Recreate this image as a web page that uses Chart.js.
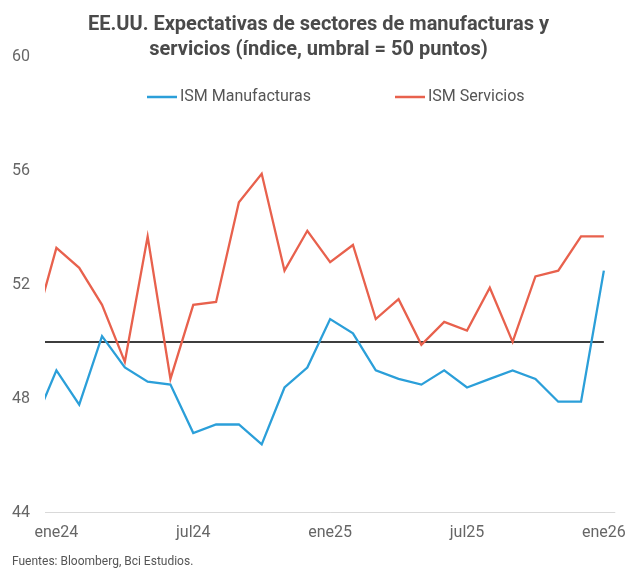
<!DOCTYPE html>
<html lang="es">
<head>
    <meta charset="UTF-8">
    <title>EE.UU. Expectativas de sectores de manufacturas y servicios</title>
    <script src="https://cdn.jsdelivr.net/npm/chart.js"></script>
    <style>
        body {
            margin: 0;
            background-color: #fff;
        }

        #chart-container {
            width: 637px;
            height: 569px;
            position: relative;
        }
    </style>
</head>
<body>

<div id="chart-container">
    <canvas id="ismChart"></canvas>
</div>

<script>
    // meses de la serie (dic23 solo para el tramo inicial de la línea)
    var meses = ['dic23', 'ene24', 'feb24', 'mar24', 'abr24', 'may24', 'jun24', 'jul24', 'ago24', 'sep24', 'oct24', 'nov24', 'dic24',
        'ene25', 'feb25', 'mar25', 'abr25', 'may25', 'jun25', 'jul25', 'ago25', 'sep25', 'oct25', 'nov25', 'dic25', 'ene26'];
    var manufacturas = [47.1, 49.0, 47.8, 50.2, 49.1, 48.6, 48.5, 46.8, 47.1, 47.1, 46.4, 48.4, 49.1,
        50.8, 50.3, 49.0, 48.7, 48.5, 49.0, 48.4, 48.7, 49.0, 48.7, 47.9, 47.9, 52.5];
    var servicios = [50.4, 53.3, 52.6, 51.3, 49.3, 53.7, 48.7, 51.3, 51.4, 54.9, 55.9, 52.5, 53.9,
        52.8, 53.4, 50.8, 51.5, 49.9, 50.7, 50.4, 51.9, 50.0, 52.3, 52.5, 53.7, 53.7];
    var mesesEje = ['ene24', 'jul24', 'ene25', 'jul25', 'ene26'];
    var ticksY = [44, 48, 52, 56, 60];
    var umbral = 50;

    function puntos(valores) {
        return valores.map(function (v, i) { return { x: i, y: v }; });
    }

    // leyenda dibujada dentro del área del gráfico
    var leyendaInterna = {
        id: 'leyendaInterna',
        afterDraw: function (chart) {
            var ctx = chart.ctx;
            var area = chart.chartArea;
            var xs = [area.left + 102, area.left + 350];
            var y = 97;
            ctx.save();
            ctx.font = '16px Roboto';
            ctx.textBaseline = 'middle';
            ctx.textAlign = 'left';
            chart.data.datasets.slice(0, 2).forEach(function (ds, i) {
                ctx.strokeStyle = ds.borderColor;
                ctx.lineWidth = 2.5;
                ctx.beginPath();
                ctx.moveTo(xs[i], y);
                ctx.lineTo(xs[i] + 30, y);
                ctx.stroke();
                ctx.fillStyle = '#555';
                ctx.fillText(ds.label, xs[i] + 33, y);
            });
            ctx.restore();
        }
    };

    var ctx = document.getElementById('ismChart').getContext('2d');
    var myChart = new Chart(ctx, {
        type: 'line',
        data: {
            datasets: [{
                label: 'ISM Manufacturas',
                data: puntos(manufacturas),
                borderColor: '#2b9fd9',
                borderWidth: 2.3,
                pointRadius: 0,
                tension: 0
            }, {
                label: 'ISM Servicios',
                data: puntos(servicios),
                borderColor: '#e8614d',
                borderWidth: 2.3,
                pointRadius: 0,
                tension: 0
            }, {
                label: 'Umbral',
                data: [{ x: 0, y: umbral }, { x: meses.length - 1, y: umbral }],
                borderColor: '#3d3d3d',
                borderWidth: 2,
                pointRadius: 0
            }]
        },
        options: {
            responsive: true,
            maintainAspectRatio: false,
            animation: false,
            layout: {
                padding: { left: 12, right: 12, top: 0, bottom: 0 }
            },
            plugins: {
                legend: { display: false },
                tooltip: { enabled: false },
                title: {
                    display: true,
                    text: ['EE.UU. Expectativas de sectores de manufacturas y', 'servicios (índice, umbral = 50 puntos)'],
                    color: '#4a4a4a',
                    font: { family: 'Roboto', size: 20, weight: 'bold', lineHeight: 1.25 },
                    padding: { top: 12, bottom: -5 }
                },
                subtitle: {
                    display: true,
                    position: 'bottom',
                    align: 'start',
                    text: 'Fuentes: Bloomberg, Bci Estudios.',
                    color: '#555',
                    font: { family: 'Roboto', size: 12, lineHeight: 1.1 },
                    padding: { top: 14, bottom: 0 }
                }
            },
            scales: {
                x: {
                    type: 'linear',
                    min: 0.5,
                    max: meses.length - 0.5,
                    afterBuildTicks: function (scale) {
                        scale.ticks = mesesEje.map(function (m) { return { value: meses.indexOf(m) }; });
                    },
                    afterFit: function (scale) {
                        scale.height = 29;
                    },
                    ticks: {
                        callback: function (value) { return meses[value]; },
                        color: '#666',
                        font: { family: 'Roboto', size: 16 },
                        padding: 11,
                        maxRotation: 0
                    },
                    grid: { display: false, drawTicks: false },
                    border: { display: false }
                },
                y: {
                    min: 44,
                    max: 60,
                    afterBuildTicks: function (scale) {
                        scale.ticks = ticksY.map(function (v) { return { value: v }; });
                    },
                    afterFit: function (scale) {
                        scale.width = 33;
                    },
                    ticks: {
                        color: '#666',
                        font: { family: 'Roboto', size: 16 },
                        padding: 15
                    },
                    grid: {
                        drawTicks: false,
                        color: function (c) {
                            return c.tick && c.tick.value === 44 ? '#d9d9d9' : 'rgba(0,0,0,0)';
                        }
                    },
                    border: { display: false }
                }
            }
        },
        plugins: [leyendaInterna]
    });
</script>

</body>
</html>
